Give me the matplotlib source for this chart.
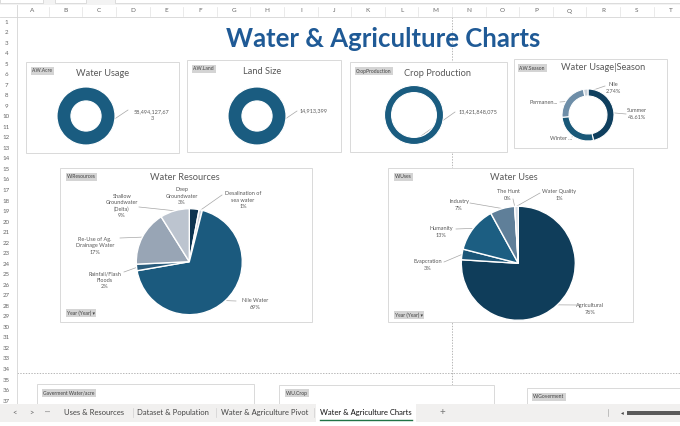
import numpy as np
import matplotlib
matplotlib.use('Agg')
import matplotlib.pyplot as plt
from matplotlib.patches import Rectangle

plt.rcParams['font.family'] = ['Lato', 'DejaVu Sans']

# ---- data ----
columns = list('ABCDEFGHIJKLMNOPQRST')
rows = list(range(1, 38))
sheet_tabs = ['Uses & Resources', 'Dataset & Population', 'Water & Agriculture Pivot', 'Water & Agriculture Charts']

water_usage_total = 58494127673
land_size_total = 14913399
crop_production_total = 13421848075

season_names = ['Summer', 'Winter', 'Permanent', 'Nile']
season_share = [46.61, 27.00, 23.65, 2.74]
season_labels = ['Summer\n46.61%', 'Winter ...', 'Permanen...', 'Nile\n2.74%']

resource_names = ['Deep\nGroundwater', 'Desalination of\nsea water', 'Nile Water',
                  'Rainfall/Flash\nFloods', 'Re-Use of Ag.\nDrainage Water', 'Shallow\nGroundwater\n(Delta)']
resource_pct = [3, 1, 69, 2, 17, 9]

use_names = ['Agricultural', 'Evapcration', 'Humanity', 'Industry', 'The Hunt', 'Water Quality']
use_pct = [76, 3, 13, 7, 0, 1]

W, H = 680, 426
fig = plt.figure(figsize=(W / 100, H / 100), dpi=100)
base = fig.add_axes([0, 0, 1, 1])
base.set_xlim(0, W)
base.set_ylim(H, 0)
base.axis('off')

grey_txt = '#595959'
line_col = '#A6A6A6'

# ---- spreadsheet chrome ----
base.add_patch(Rectangle((0, 0), W, 5, color='#F3F3F3', lw=0))
for x0, x1 in [(0, 43), (55, 86), (115, 680)]:
    base.add_patch(Rectangle((x0, -2), x1 - x0, 5, fc='white', ec='#D0D0D0', lw=0.5))
base.plot([0, W], [17, 17], color='#D4D4D4', lw=0.6)
base.plot([17, 17], [5, 405], color='#D4D4D4', lw=0.6)
col_w = 33.6
for i, c in enumerate(columns):
    xc = 32 + i * col_w
    base.text(xc, 11, c, ha='center', va='center', fontsize=4.6, color='#666666')
    base.plot([xc + col_w / 2] * 2, [7, 16], color='#E2E2E2', lw=0.5)
for r in rows:
    base.text(6.5, 22 + (r - 1) * 10.53, str(r), ha='center', va='center', fontsize=4.4, color='#666666')

# page break lines
base.plot([452, 452], [17, 404], color='#9A9A9A', lw=0.5, ls=(0, (2, 2)), zorder=1)
base.plot([17, W], [373, 373], color='#9A9A9A', lw=0.5, ls=(0, (2, 2)), zorder=1)

base.text(383, 39, 'Water & Agriculture Charts', ha='center', va='center', fontsize=18.5,
          fontweight='bold', color='#1F5A96')


def chart_box(x0, y0, x1, y1):
    base.add_patch(Rectangle((x0, y0), x1 - x0, y1 - y0, fc='white', ec='#D9D9D9', lw=0.7, zorder=2))


def tag(x, y, s):
    base.text(x, y, s, ha='left', va='center', fontsize=3.6, color='#404040', zorder=4,
              bbox=dict(boxstyle='square,pad=0.25', fc='#D4D4D4', ec='none'))


def title(x, y, s):
    base.text(x, y, s, ha='center', va='center', fontsize=6.7, color=grey_txt, zorder=4)


def draw_pie(cx, cy, r, vals, colors, **wedge):
    ax = fig.add_axes([(cx - r) / W, 1 - (cy + r) / H, 2 * r / W, 2 * r / H])
    ax.pie(vals, colors=colors, startangle=90, counterclock=False, wedgeprops=wedge)
    ax.set_xlim(-1, 1)
    ax.set_ylim(-1, 1)
    ax.axis('off')
    return ax


def edge_point(cx, cy, r, frac):
    a = 2 * np.pi * frac
    return cx + r * np.sin(a), cy - r * np.cos(a)


def leader(p0, p1):
    base.plot([p0[0], p1[0]], [p0[1], p1[1]], color=line_col, lw=0.5, zorder=4)


def small(x, y, s, ha='center'):
    base.text(x, y, s, ha=ha, va='center', fontsize=4.0, color=grey_txt, linespacing=1.3, zorder=4)


ring = '#1A5C80'

# ---- single value donuts ----
single = [
    (26, 62, 179, 153, 'A.W.Acre', 'Water Usage', 103, 86, 116, 29, 0.48, water_usage_total, True,
     (152, 115), (128, 110)),
    (187, 60, 341, 152, 'A.W.Land', 'Land Size', 262, 257, 116, 29, 0.48, land_size_total, False,
     (314, 111), (297, 111)),
    (350, 62, 507, 152, 'CropProduction', 'Crop Production', 438, 414, 115, 29.5, 0.24, crop_production_total,
     False, (478, 112), (455, 112)),
]
for x0, y0, x1, y1, tg, tt, tx, cx, cy, r, w, val, wrap, lab, lend in single:
    chart_box(x0, y0, x1, y1)
    tag(x0 + 6, y0 + 9, tg)
    title(tx, y0 + 11, tt)
    draw_pie(cx, cy, r, [val], [ring], width=w, edgecolor='white', linewidth=0.8)
    s = f'{val:,}'
    if wrap:
        s = s[:-1] + '\n' + s[-1:]
    small(lab[0], lab[1], s)
    leader(edge_point(cx, cy, r * (1 - w / 2), 0.5), lend)

# ---- season donut ----
chart_box(514, 59, 667, 148)
tag(519, 68, 'A.W.Season')
title(603, 68, 'Water Usage|Season')
cx, cy, r = 588, 115, 26
draw_pie(cx, cy, r, season_share, ['#0F3F5E', '#195878', '#6E8EA8', '#C8D1DA'],
         width=0.27, edgecolor='white', linewidth=0.8)
season_pos = [(637, 114, 'center', (626, 114)), (572, 138, 'right', (572, 137)),
              (558, 102, 'right', (560, 102)), (613, 88, 'center', (605, 86))]
tot = sum(season_share)
cum = 0
for v, lab, (lx, ly, ha, lend) in zip(season_share, season_labels, season_pos):
    mid = (cum + v / 2) / tot
    cum += v
    small(lx, ly, lab, ha=ha)
    leader(edge_point(cx, cy, r * 0.87, mid), lend)

# ---- Water Resources pie ----
chart_box(60, 168, 312, 322)
tag(67, 177, 'W.Resources')
title(185, 177, 'Water Resources')
tag(67, 313, 'Year (Year) \u25BE')
cx, cy, r = 189.3, 261.7, 53
draw_pie(cx, cy, r, resource_pct, ['#0D3450', '#C9D1DA', '#1B5A7E', '#2A5C7C', '#98A5B5', '#BCC4CF'],
         edgecolor='white', linewidth=1.0)
res_pos = [(182, 196, None), (243, 200, (222, 195)), (255, 304, (236, 301)),
           (105, 280, (124, 272)), (95, 246, (120, 238)), (122, 206, (139, 207))]
tot = sum(resource_pct)
cum = 0
for v, name, (lx, ly, lend) in zip(resource_pct, resource_names, res_pos):
    mid = (cum + v / 2) / tot
    cum += v
    small(lx, ly, f'{name}\n{v}%')
    if lend is not None:
        leader(edge_point(cx, cy, r, mid), lend)

# ---- Water Uses pie ----
chart_box(388, 168, 633, 322)
tag(395, 177, 'W.Uses')
title(514, 178, 'Water Uses')
tag(395, 315, 'Year (Year) \u25BE')
cx, cy, r = 518.3, 263.3, 57
draw_pie(cx, cy, r, use_pct, ['#0F3D5A', '#1B5678', '#1C5E82', '#5F7F99', '#D0D8E0', '#D6DDE5'],
         edgecolor='white', linewidth=1.0)
use_pos = [(590, 309, (578, 305)), (428, 265, (444, 262)), (441, 232, (456, 229)),
           (459, 205, (470, 203)), (508, 195, (513, 199)), (559, 195, (540, 193))]
tot = sum(use_pct)
cum = 0
for v, name, (lx, ly, lend) in zip(use_pct, use_names, use_pos):
    mid = (cum + v / 2) / tot
    cum += v
    small(lx, ly, f'{name}\n{v}%')
    leader(edge_point(cx, cy, r, mid), lend)

# ---- lower charts (cut off) ----
chart_box(37, 384, 254, 430)
tag(43, 393, 'Gaverment Water/acre')
chart_box(279, 385, 494, 430)
tag(286, 393, 'W.U.Crop')
chart_box(527, 388, 690, 430)
tag(533, 397, 'W.Goverment')

# ---- sheet tab bar ----
base.add_patch(Rectangle((0, 404), W, 18, color='#F1F0EF', lw=0, zorder=5))
base.add_patch(Rectangle((0, 422), W, 4, color='white', lw=0, zorder=5))
base.add_patch(Rectangle((316, 404), 100, 18, color='white', lw=0, zorder=5))
base.plot([320, 412], [419.5, 419.5], color='#217346', lw=1.0, zorder=6)
for x, s in [(15, '<'), (31, '>'), (48, '\u00B7\u00B7\u00B7')]:
    base.text(x, 412.5, s, ha='center', va='center', fontsize=5.5, color='#666666', zorder=6)
for x, s in zip([94, 173, 265, 366], sheet_tabs):
    base.text(x, 412.5, s, ha='center', va='center', fontsize=5.5,
              color='#111111' if s == sheet_tabs[-1] else '#444444', zorder=6)
for x in [133, 216, 314]:
    base.plot([x, x], [408, 417], color='#D0D0D0', lw=0.5, zorder=6)
base.text(442, 412.5, '+', ha='center', va='center', fontsize=7, color='#777777', zorder=6)
base.plot([608, 608], [409, 416], color='#AAAAAA', lw=0.5, zorder=6)
base.text(622, 412.5, '\u25C2', ha='center', va='center', fontsize=4, color='#444444', zorder=6)
base.add_patch(Rectangle((627, 411), 60, 3.5, color='#5A5A5A', lw=0, zorder=6))

fig.savefig('out.png', dpi=100)
